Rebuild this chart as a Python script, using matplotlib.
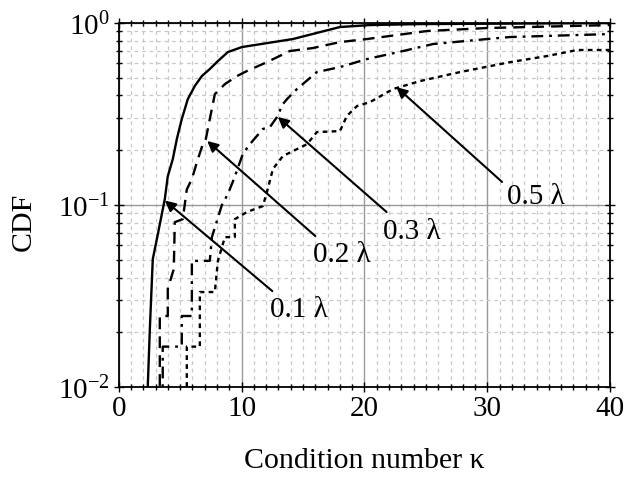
import numpy as np
import matplotlib
matplotlib.use("Agg")
import matplotlib.pyplot as plt
from matplotlib.ticker import MultipleLocator, LogLocator, NullFormatter

plt.rcParams['font.family'] = ['Liberation Serif', 'DejaVu Serif']
plt.rcParams['mathtext.fontset'] = 'custom'
plt.rcParams['mathtext.rm'] = 'Liberation Serif'
plt.rcParams['mathtext.it'] = 'Liberation Serif:italic'

# CDF curves (condition number, CDF)
k_01 = [2.36, 2.36, 2.53, 2.77, 3.10, 3.75, 3.99, 4.40, 4.73, 5.13, 5.62, 6.19,
        6.76, 7.41, 8.07, 8.88, 10.02, 14.18, 18.0, 20.45, 24.52, 40]
cdf_01 = [0.008, 0.010, 0.0208, 0.0505, 0.065, 0.108, 0.144, 0.179, 0.231, 0.297,
          0.382, 0.451, 0.511, 0.559, 0.618, 0.693, 0.738, 0.817, 0.951, 0.975, 0.987, 1.0]

k_02 = [3.34, 3.34, 3.99, 3.99, 4.48, 4.56, 5.21, 5.54, 5.95, 6.44, 6.84, 7.09, 7.41,
        7.82, 8.64, 9.61, 10.43, 12.06, 13.93, 15.80, 18.0, 20.2, 25.09, 29.98, 40]
cdf_02 = [0.008, 0.0246, 0.0246, 0.0347, 0.0445, 0.0806, 0.0837, 0.122, 0.139, 0.179,
          0.216, 0.231, 0.297, 0.407, 0.462, 0.511, 0.545, 0.610, 0.702, 0.729, 0.786,
          0.817, 0.904, 0.939, 0.975]

k_03 = [3.58, 3.58, 5.13, 5.13, 5.95, 5.95, 7.41, 7.58, 8.39, 8.88, 9.37, 9.86, 10.10,
        10.67, 11.73, 12.30, 12.87, 13.36, 13.69, 14.50, 16.13, 18.0, 20.2, 23.14,
        25.58, 29.98, 31.85, 40]
cdf_03 = [0.008, 0.0167, 0.0167, 0.0246, 0.0246, 0.0494, 0.0494, 0.0667, 0.100, 0.115,
          0.139, 0.172, 0.191, 0.216, 0.262, 0.268, 0.304, 0.359, 0.382, 0.434, 0.538,
          0.573, 0.634, 0.702, 0.767, 0.817, 0.838, 0.870]

k_05 = [5.54, 5.54, 6.60, 6.60, 7.82, 8.07, 8.64, 9.45, 9.45, 10.43, 11.73, 12.06,
        12.55, 13.36, 15.32, 16.13, 18.0, 18.57, 19.39, 20.45, 22.32, 24.52, 27.78,
        31.85, 34.87, 37.31, 40]
cdf_05 = [0.008, 0.0167, 0.0167, 0.0333, 0.0333, 0.0494, 0.0667, 0.0667, 0.0837,
          0.0916, 0.0988, 0.118, 0.158, 0.186, 0.216, 0.252, 0.255, 0.309, 0.350,
          0.368, 0.434, 0.480, 0.538, 0.610, 0.659, 0.711, 0.711]

labels = ['0.1 \u03bb', '0.2 \u03bb', '0.3 \u03bb', '0.5 \u03bb']
arrow_tip = [(3.75, 0.106), (7.2, 0.225), (12.95, 0.305), (22.6, 0.445)]
arrow_tail = [(12.5, 0.0337), (16.0, 0.0676), (21.8, 0.0916), (31.2, 0.134)]
label_pos = [(12.3, 0.0268), (15.8, 0.0538), (21.5, 0.072), (31.6, 0.112)]

fig = plt.figure(figsize=(6.35, 4.81), dpi=100)
ax = fig.add_axes([0.187, 0.193, 0.774, 0.757])

lw = 1.7
ax.plot(k_01, cdf_01, color='black', lw=lw, ls='-')
ax.plot(k_02, cdf_02, color='black', lw=lw, ls=(0, (5, 3)))
ax.plot(k_03, cdf_03, color='black', lw=lw, ls=(0, (5, 2.5, 1.2, 2.5)))
ax.plot(k_05, cdf_05, color='black', lw=lw, ls=(0, (2, 1.8)))

ax.set_yscale('log')
ax.set_xlim(0, 40)
ax.set_ylim(0.01, 1)

ax.xaxis.set_major_locator(MultipleLocator(10))
ax.xaxis.set_minor_locator(MultipleLocator(1))
ax.yaxis.set_major_locator(LogLocator(base=10))
ax.yaxis.set_minor_locator(LogLocator(base=10, subs=np.arange(2, 10)))
ax.yaxis.set_minor_formatter(NullFormatter())

ax.grid(which='major', color='#999999', lw=1.0, ls='-')
ax.grid(which='minor', color='#c8c8c8', lw=0.9, ls=(0, (3, 3)))
ax.set_axisbelow(True)

for s in ax.spines.values():
    s.set_linewidth(1.3)

ax.tick_params(which='both', top=True, right=True, direction='in', labelsize=21, width=1.0)
ax.tick_params(which='major', length=7)
ax.tick_params(which='minor', length=4)
ax.tick_params(axis='x', which='both', bottom=True, direction='inout')
ax.tick_params(axis='y', which='both', left=True, direction='inout')
ax.tick_params(axis='x', pad=2)
ax.tick_params(axis='y', pad=3)

ax.set_xlabel('Condition number \u03ba', fontsize=21.5)
ax.xaxis.set_label_coords(0.5, -0.165)
ax.set_ylabel('CDF', fontsize=21.5)
ax.yaxis.set_label_coords(-0.167, 0.456)

for lab, tip, tail, pos in zip(labels, arrow_tip, arrow_tail, label_pos):
    ax.annotate('', xy=tip, xytext=tail,
                arrowprops=dict(arrowstyle='-|>', color='black', lw=1.5,
                                mutation_scale=16, shrinkA=0, shrinkB=0))
    ax.text(pos[0], pos[1], lab, fontsize=21, ha='left', va='center')

fig.savefig('out.png', dpi=100)
